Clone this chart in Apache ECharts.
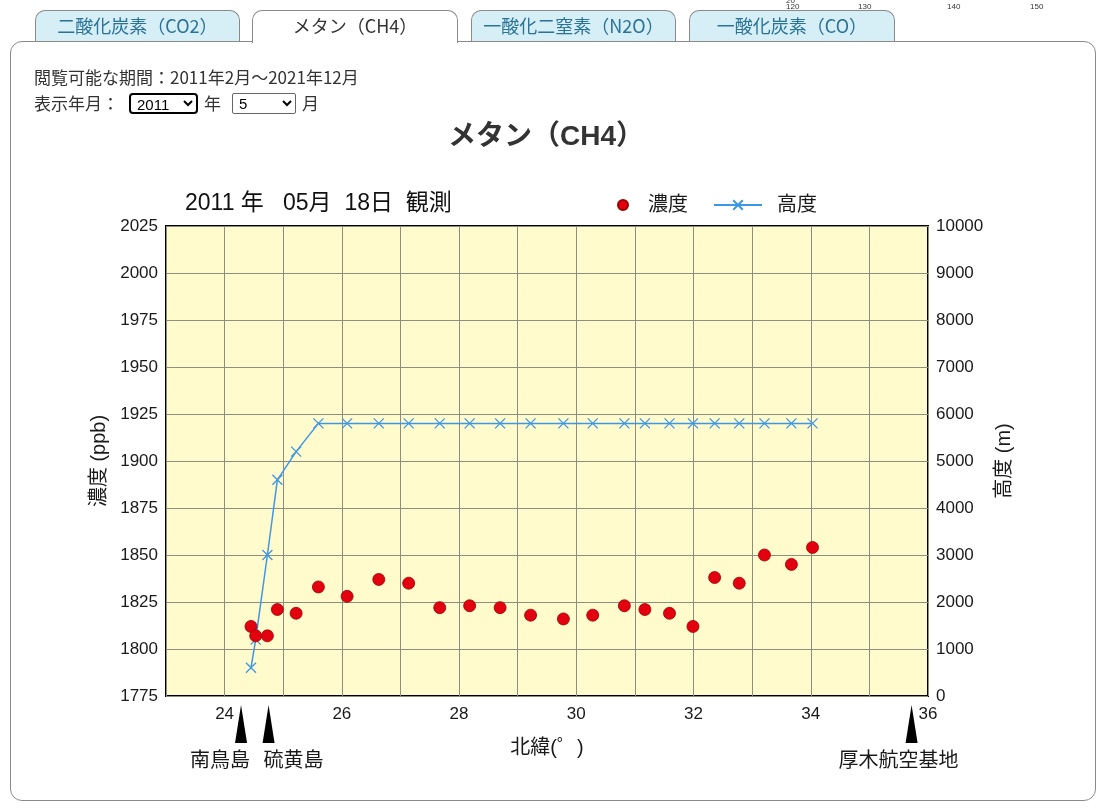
<!DOCTYPE html>
<html><head><meta charset="utf-8">
<script src="https://cdn.jsdelivr.net/npm/echarts@6/dist/echarts.min.js"></script>
<style>
html,body{margin:0;padding:0;background:#fff;}
body{width:1109px;height:810px;position:relative;overflow:hidden;font-family:"Noto Sans CJK JP",sans-serif;}
.tab{position:absolute;top:10px;height:31px;border:1px solid #8a8a8a;border-bottom:none;border-radius:10px 10px 0 0;background:#d6eef5;color:#2a7396;font-size:18px;line-height:29px;text-align:center;box-sizing:border-box;z-index:3;white-space:nowrap;}
.tab.active{background:#fff;color:#333;height:33px;}
.panel{position:absolute;left:10px;top:41px;width:1086px;height:760px;border:1px solid #8a8a8a;border-radius:12px;box-sizing:border-box;background:#fff;z-index:1;}
#chart{position:absolute;left:0;top:0;width:1109px;height:810px;z-index:2;pointer-events:none;}
.txt{position:absolute;font-size:17px;color:#333;z-index:4;white-space:nowrap;line-height:20px;}
.sel{position:absolute;z-index:4;box-sizing:border-box;font-size:15px;font-family:"Liberation Sans",Arial,sans-serif;color:#000;background:#fff;height:21px;padding:0 2px;}
.map{position:absolute;font-size:8px;color:#333;font-family:"Liberation Sans",Arial,sans-serif;z-index:4;}
</style></head>
<body>
<div class="map" style="left:786px;top:-4px;">20</div>
<div class="map" style="left:786px;top:2px;">120</div>
<div class="map" style="left:858px;top:2px;">130</div>
<div class="map" style="left:947px;top:2px;">140</div>
<div class="map" style="left:1030px;top:2px;">150</div>
<div class="tab" style="left:35px;width:205px;">二酸化炭素（CO2）</div>
<div class="tab active" style="left:252px;width:206px;">メタン（CH4）</div>
<div class="tab" style="left:471px;width:205px;">一酸化二窒素（N2O）</div>
<div class="tab" style="left:689px;width:206px;">一酸化炭素（CO）</div>
<div class="panel"></div>
<div class="txt" style="left:34px;top:67px;">閲覧可能な期間：2011年2月～2021年12月</div>
<div class="txt" style="left:34px;top:93px;">表示年月：</div>
<select class="sel" style="left:129px;top:93px;width:69px;border:2px solid #000;border-radius:4px;"><option>2011</option></select>
<div class="txt" style="left:204px;top:93px;">年</div>
<select class="sel" style="left:232px;top:93px;width:64px;border:1px solid #666;border-radius:2px;"><option>5</option></select>
<div class="txt" style="left:302px;top:93px;">月</div>
<div id="chart"></div>
<script>
// ---- data ----
const latitude = [24.45, 24.53, 24.73, 24.90, 25.22, 25.60, 26.09, 26.63, 27.14, 27.67, 28.18, 28.70,
                  29.22, 29.78, 30.28, 30.82, 31.17, 31.59, 31.99, 32.36, 32.78, 33.21, 33.67, 34.03];
const ch4 = [1812, 1807, 1807, 1821, 1819, 1833, 1828, 1837, 1835, 1822, 1823, 1822,
             1818, 1816, 1818, 1823, 1821, 1819, 1812, 1838, 1835, 1850, 1845, 1854];
const altitude = [600, 1200, 3000, 4600, 5200, 5800, 5800, 5800, 5800, 5800, 5800, 5800,
                  5800, 5800, 5800, 5800, 5800, 5800, 5800, 5800, 5800, 5800, 5800, 5800];
const stations = ['南鳥島', '硫黄島', '厚木航空基地'];
const stationLat = [24.28, 24.75, 35.72];
const chartTitle = 'メタン（CH4）';
const dateText = '2011 年   05月  18日  観測';

const FONT = '"Liberation Sans", Arial, "Noto Sans CJK JP", sans-serif';
const chart = echarts.init(document.getElementById('chart'), null, {renderer: 'canvas'});
const plain = v => String(v);
const axisLabelStyle = {fontSize: 17, color: '#1a1a1a', fontFamily: FONT};
const option = {
  animation: false,
  textStyle: {fontFamily: FONT},
  grid: {left: 166, right: 181, top: 226, bottom: 114, show: true, backgroundColor: '#fffbcc', borderColor: '#000', borderWidth: 2},
  xAxis: {
    type: 'value', min: 23, max: 36, interval: 1,
    axisLine: {show: false}, axisTick: {show: false},
    splitLine: {show: true, lineStyle: {color: '#8e8e80', width: 1}},
    axisLabel: Object.assign({margin: 10, formatter: v => (v % 2 === 0 ? String(v) : '')}, axisLabelStyle),
    name: '北緯(゜)', nameLocation: 'middle', nameGap: 42,
    nameTextStyle: {fontSize: 20, color: '#1a1a1a', fontFamily: FONT}
  },
  yAxis: [
    {
      type: 'value', min: 1775, max: 2025, interval: 25, position: 'left',
      axisLine: {show: false}, axisTick: {show: false},
      splitLine: {show: true, lineStyle: {color: '#8e8e80', width: 1}},
      axisLabel: Object.assign({margin: 8, formatter: plain}, axisLabelStyle),
      name: '濃度 (ppb)', nameLocation: 'middle', nameGap: 50, nameRotate: 90,
      nameTextStyle: {fontSize: 20, color: '#1a1a1a', fontFamily: FONT}
    },
    {
      type: 'value', min: 0, max: 10000, interval: 1000, position: 'right',
      axisLine: {show: false}, axisTick: {show: false}, splitLine: {show: false},
      axisLabel: Object.assign({margin: 8, formatter: plain}, axisLabelStyle),
      name: '高度 (m)', nameLocation: 'middle', nameGap: 62, nameRotate: 90,
      nameTextStyle: {fontSize: 20, color: '#1a1a1a', fontFamily: FONT}
    }
  ],
  legend: [
    {data: ['濃度'], left: 612, top: 190, itemWidth: 40, itemHeight: 10, icon: 'circle',
     textStyle: {fontSize: 20, color: '#1a1a1a', fontFamily: FONT}},
    {data: ['高度'], left: 708, top: 190, itemWidth: 48, itemHeight: 12,
     textStyle: {fontSize: 20, color: '#1a1a1a', fontFamily: FONT, padding: [0, 0, 0, 10]}}
  ],
  graphic: [
    {type: 'text', id: 'title', x: 546, y: 137,
     style: {text: chartTitle, fill: '#333', font: 'bold 28px "Liberation Sans", Arial, "Noto Sans CJK JP", sans-serif', align: 'center', verticalAlign: 'middle'}},
    {type: 'text', id: 'date', x: 185, y: 204,
     style: {text: dateText, fill: '#111', font: '23px "Liberation Sans", Arial, "Noto Sans CJK JP", sans-serif', align: 'left', verticalAlign: 'middle'}}
  ],
  series: [
    {
      name: '高度', type: 'line', yAxisIndex: 1,
      data: latitude.map((x, i) => [x, altitude[i]]),
      symbol: 'path://M0,0L10,10M10,0L0,10', symbolSize: 10,
      lineStyle: {color: '#3d97e6', width: 1.5},
      itemStyle: {color: '#3d97e6', borderColor: '#3d97e6', borderWidth: 1.3},
      z: 2
    },
    {
      name: '濃度', type: 'scatter', yAxisIndex: 0,
      data: latitude.map((x, i) => [x, ch4[i]]),
      symbol: 'circle', symbolSize: 12,
      itemStyle: {color: '#e3000f', borderColor: '#9a0000', borderWidth: 0.8, opacity: 1},
      z: 3
    }
  ]
};
chart.setOption(option);

// station markers below the x axis, positioned through the axis scale
const baseY = chart.convertToPixel({yAxisIndex: 0}, 1775);
const labelOffset = [-21, 25, -13];
const extra = [];
stations.forEach((name, i) => {
  const px = chart.convertToPixel({xAxisIndex: 0}, stationLat[i]);
  extra.push({type: 'polygon', id: 'tri' + i, shape: {points: [[px - 6, baseY + 47], [px + 6, baseY + 47], [px, baseY + 9]]}, style: {fill: '#000'}});
  extra.push({type: 'text', id: 'st' + i, x: px + labelOffset[i], y: baseY + 63,
    style: {text: name, fill: '#1a1a1a', font: '20px "Noto Sans CJK JP", sans-serif', align: 'center', verticalAlign: 'middle'}});
});
chart.setOption({graphic: extra});
</script>
</body></html>
